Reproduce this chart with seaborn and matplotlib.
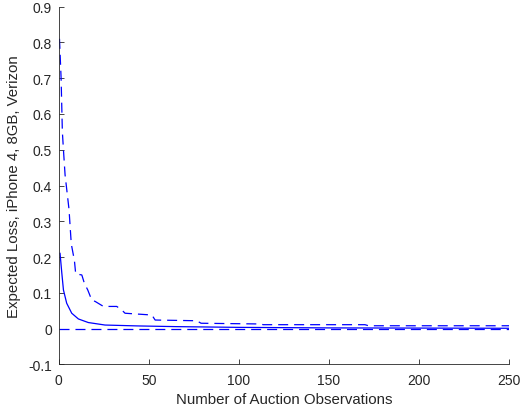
import numpy as np
import pandas as pd
import matplotlib
matplotlib.use("Agg")
import matplotlib.pyplot as plt
import seaborn as sns

# Upper bound (dashed)
x_upper = [0.4, 1.3, 2.0, 2.6, 3.5, 5.7, 6.8, 7.2, 8.7, 9.4, 12.8, 14.2, 16.1, 18.3, 20.2,
           24.8, 32.2, 35.0, 36.8, 51.7, 53.5, 76.6, 79.0, 111.8, 113.5, 170.0, 172.0, 250.0]
y_upper = [0.81, 0.70, 0.55, 0.50, 0.43, 0.333, 0.248, 0.23, 0.19, 0.153, 0.150, 0.127, 0.108,
           0.080, 0.076, 0.062, 0.062, 0.052, 0.043, 0.038, 0.024, 0.022, 0.015, 0.013,
           0.011, 0.011, 0.008, 0.008]

# Expected loss (solid)
x_mid = [0.7, 1.7, 2.6, 4.4, 7.2, 10.9, 16.4, 25.7, 44.0, 64.6, 100.0, 150.0, 200.0, 250.0]
y_mid = [0.211, 0.155, 0.108, 0.071, 0.043, 0.027, 0.017, 0.010, 0.0075, 0.0056, 0.0035,
         0.002, 0.0015, 0.001]

# Lower bound (dashed)
x_low = [0.0, 250.0]
y_low = [0.0, 0.0]

x_ticks = [0, 50, 100, 150, 200, 250]
y_ticks = [-0.1, 0, 0.1, 0.2, 0.3, 0.4, 0.5, 0.6, 0.7, 0.8, 0.9]
y_tick_labels = ["-0.1", "0", "0.1", "0.2", "0.3", "0.4", "0.5", "0.6", "0.7", "0.8", "0.9"]

sns.set_style("ticks")
plt.rcParams["font.family"] = ["Liberation Sans", "DejaVu Sans"]
plt.rcParams["lines.scale_dashes"] = False

fig = plt.figure(figsize=(5.2, 4.14), dpi=100)
ax = fig.add_axes([0.113, 0.1174, 0.866, 0.8642])

blue = "#0000ff"
df_u = pd.DataFrame({"x": x_upper, "y": y_upper})
df_m = pd.DataFrame({"x": x_mid, "y": y_mid})
df_l = pd.DataFrame({"x": x_low, "y": y_low})
sns.lineplot(data=df_u, x="x", y="y", ax=ax, color=blue, lw=0.9, estimator=None, sort=False)
sns.lineplot(data=df_m, x="x", y="y", ax=ax, color=blue, lw=0.9, estimator=None, sort=False)
sns.lineplot(data=df_l, x="x", y="y", ax=ax, color=blue, lw=0.9, estimator=None, sort=False)
ax.lines[0].set_dashes((7.2, 4.3))
ax.lines[2].set_dashes((7.2, 4.3))

ax.set_xlim(0, 250)
ax.set_ylim(-0.1, 0.9)
ax.set_xticks(x_ticks)
ax.set_xticklabels([str(t) for t in x_ticks])
ax.set_yticks(y_ticks)
ax.set_yticklabels(y_tick_labels)

grey = "#262626"
for s in ["top", "right"]:
    ax.spines[s].set_visible(False)
for s in ["left", "bottom"]:
    ax.spines[s].set_color(grey)
    ax.spines[s].set_linewidth(0.6)
ax.tick_params(direction="in", length=3.5, width=0.6, colors=grey, labelsize=10, pad=5)
ax.tick_params(axis="x", pad=6)
ax.set_xlabel("Number of Auction Observations", fontsize=10.8, color=grey, labelpad=4)
ax.set_ylabel("Expected Loss, iPhone 4, 8GB, Verizon", fontsize=10.8, color=grey, labelpad=5)

fig.savefig("out.png", dpi=100)
